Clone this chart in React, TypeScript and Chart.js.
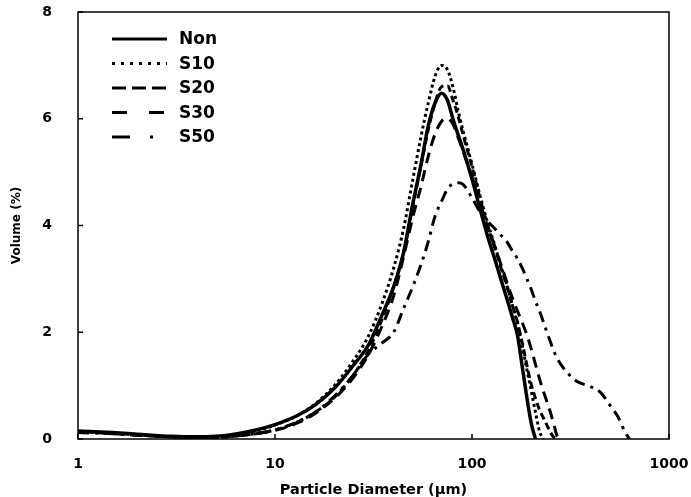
import React, { useEffect, useRef } from "react";
import { Chart, registerables } from "chart.js";

Chart.register(...registerables);

// Particle diameter (µm) sampling grid
const diameters = [
  1, 1.5, 2, 3, 4, 5, 6, 8, 10, 13, 16, 20, 25, 30, 35, 40, 45, 50, 55, 60, 65, 70, 75, 80, 85, 90,
  100, 110, 120, 130, 140, 150, 160, 170, 180, 190, 200, 210, 220, 230, 240, 250, 260, 270, 280,
  300, 340, 400, 450, 500, 550, 600, 630, 1000,
];

const nonValues = [
  0.15, 0.12, 0.09, 0.05, 0.04, 0.05, 0.08, 0.17, 0.27, 0.44, 0.64, 0.95, 1.38, 1.78, 2.33, 2.85, 3.5, 4.4, 5.13, 5.87, 6.3, 6.48, 6.35, 6.0, 5.7, 5.43,
  4.87, 4.3, 3.8, 3.39, 3.0, 2.64, 2.29, 1.95, 1.35, 0.77, 0.29, 0, null, null, null, null, null, null, null,
  null, null, null, null, null, null, null, null, null,
];

const s10Values = [
  0.14, 0.11, 0.08, 0.04, 0.03, 0.04, 0.06, 0.15, 0.26, 0.44, 0.66, 1.0, 1.47, 1.95, 2.55, 3.2, 3.95, 4.85, 5.65, 6.3, 6.8, 7.0, 6.92, 6.6, 6.15, 5.78,
  5.15, 4.55, 4.05, 3.65, 3.25, 2.9, 2.52, 2.15, 1.75, 1.3, 0.9, 0.5, 0.15, 0, null, null, null, null, null,
  null, null, null, null, null, null, null, null, null,
];

const s20Values = [
  0.14, 0.11, 0.08, 0.04, 0.03, 0.03, 0.05, 0.1, 0.17, 0.32, 0.5, 0.78, 1.2, 1.68, 2.25, 2.85, 3.5, 4.35, 5.1, 5.8, 6.3, 6.6, 6.62, 6.35, 6.05, 5.7,
  5.1, 4.5, 4.0, 3.6, 3.22, 2.87, 2.52, 2.2, 1.8, 1.38, 1.02, 0.76, 0.55, 0.4, 0.26, 0.13, 0.03, 0, null,
  null, null, null, null, null, null, null, null, null,
];

const s30Values = [
  0.13, 0.1, 0.07, 0.04, 0.03, 0.03, 0.05, 0.1, 0.16, 0.3, 0.48, 0.76, 1.15, 1.6, 2.12, 2.68, 3.42, 4.15, 4.72, 5.3, 5.72, 5.95, 6.0, 5.9, 5.65, 5.4,
  4.9, 4.42, 3.98, 3.62, 3.28, 2.95, 2.65, 2.4, 2.18, 1.95, 1.68, 1.4, 1.13, 0.9, 0.7, 0.5, 0.28, 0.06, 0,
  null, null, null, null, null, null, null, null, null,
];

const s50Values = [
  0.12, 0.1, 0.07, 0.04, 0.03, 0.03, 0.05, 0.1, 0.17, 0.32, 0.5, 0.8, 1.2, 1.6, 1.8, 2.0, 2.45, 2.85, 3.26, 3.7, 4.18, 4.45, 4.68, 4.78, 4.8, 4.77,
  4.52, 4.25, 4.08, 3.95, 3.82, 3.7, 3.53, 3.38, 3.2, 3.0, 2.8, 2.58, 2.4, 2.2, 2.0, 1.82, 1.65, 1.52, 1.42,
  1.27, 1.08, 0.98, 0.87, 0.64, 0.42, 0.12, 0, null,
];

const seriesLabels = ["Non", "S10", "S20", "S30", "S50"];
const seriesValues = [nonValues, s10Values, s20Values, s30Values, s50Values];
const lineDashes = [[], [3, 3], [7, 4], [11, 7], [11, 6, 3, 6]];
const legendDashes = [[], [3, 6], [14, 6], [15, 22], [18, 20, 3, 100]];

const xTickValues = [1, 10, 100, 1000];
const yTickValues = [0, 2, 4, 6, 8];

const FONT = "'DejaVu Sans', sans-serif";

const frameAndLegend = {
  id: "frameAndLegend",
  afterDatasetsDraw(chart: any) {
    const { ctx, chartArea: a, scales } = chart;
    ctx.save();
    ctx.strokeStyle = "#000";
    ctx.lineWidth = 1.5;
    ctx.setLineDash([]);
    ctx.strokeRect(a.left, a.top, a.right - a.left, a.bottom - a.top);
    ctx.beginPath();
    for (const v of xTickValues) {
      const px = scales.x.getPixelForValue(v);
      ctx.moveTo(px, a.bottom);
      ctx.lineTo(px, a.bottom - 5);
    }
    for (const v of yTickValues) {
      const py = scales.y.getPixelForValue(v);
      ctx.moveTo(a.left, py);
      ctx.lineTo(a.left + 5, py);
    }
    ctx.stroke();

    chart.data.datasets.forEach((ds: any, i: number) => {
      const y = a.top + 27 + i * 24.5;
      ctx.strokeStyle = "#000";
      ctx.lineWidth = 3;
      ctx.lineCap = "butt";
      ctx.setLineDash(legendDashes[i]);
      ctx.beginPath();
      ctx.moveTo(a.left + 34, y);
      ctx.lineTo(a.left + 89, y);
      ctx.stroke();
      ctx.setLineDash([]);
      ctx.fillStyle = "#000";
      ctx.font = `bold 17px ${FONT}`;
      ctx.textBaseline = "middle";
      ctx.textAlign = "left";
      ctx.fillText(ds.label, a.left + 101, y + 1);
    });
    ctx.restore();
  },
};

export default function App() {
  const canvasRef = useRef<HTMLCanvasElement | null>(null);

  useEffect(() => {
    if (!canvasRef.current) return;
    const datasets = seriesLabels.map((label, i) => ({
      label,
      data: diameters.map((d, j) => ({ x: d, y: seriesValues[i][j] })),
      borderColor: "#000",
      backgroundColor: "#000",
      borderWidth: i === 0 ? 3.5 : 3,
      borderDash: lineDashes[i],
      pointRadius: 0,
      fill: false,
      cubicInterpolationMode: "monotone" as const,
      spanGaps: false,
    }));

    const chart = new Chart(canvasRef.current, {
      type: "line",
      data: { datasets },
      options: {
        animation: false,
        responsive: false,
        devicePixelRatio: 1,
        layout: { padding: { top: 12, right: 22, left: 0, bottom: 0 } },
        plugins: { legend: { display: false }, tooltip: { enabled: false } },
        scales: {
          x: {
            type: "logarithmic",
            min: 1,
            max: 1000,
            afterBuildTicks: (s: any) => {
              s.ticks = xTickValues.map((v) => ({ value: v }));
            },
            afterFit: (s: any) => {
              s.height = 58;
            },
            ticks: {
              callback: (v: any) => String(v),
              color: "#000",
              font: { family: FONT, size: 14, weight: "bold" },
              padding: 0,
              maxRotation: 0,
              autoSkip: false,
            },
            grid: { display: false, drawTicks: true, tickLength: 17 },
            border: { display: false },
            title: {
              display: true,
              text: "Particle Diameter (μm)",
              color: "#000",
              font: { family: FONT, size: 14.5, weight: "bold" },
              padding: { top: 0, bottom: -2 },
            },
          },
          y: {
            min: 0,
            max: 8,
            afterBuildTicks: (s: any) => {
              s.ticks = yTickValues.map((v) => ({ value: v }));
            },
            afterFit: (s: any) => {
              s.width = 78;
            },
            ticks: {
              color: "#000",
              font: { family: FONT, size: 14, weight: "bold" },
              padding: 0,
            },
            grid: { display: false, drawTicks: true, tickLength: 26 },
            border: { display: false },
            title: {
              display: true,
              text: "Volume (%)",
              color: "#000",
              font: { family: FONT, size: 12, weight: "bold" },
              padding: { top: 10, bottom: 0 },
            },
          },
        },
      },
      plugins: [frameAndLegend],
    } as any);
    return () => chart.destroy();
  }, []);

  return (
    <div style={{ position: "fixed", left: 0, top: 0, width: 691, height: 497, background: "#fff" }}>
      <canvas ref={canvasRef} width={691} height={497} style={{ display: "block" }} />
    </div>
  );
}
